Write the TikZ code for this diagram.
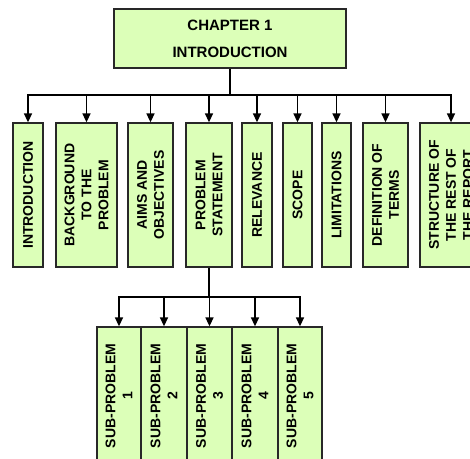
\documentclass[tikz,border=0pt]{standalone}
\usepackage{fontspec}
\setmainfont{Liberation Sans}
\usetikzlibrary{arrows.meta}
\definecolor{boxgreen}{RGB}{220,255,184}
\definecolor{boxline}{RGB}{40,40,40}

\begin{document}
\begin{tikzpicture}[x=1pt, y=-1pt,
  box/.style={shape=rectangle, draw=boxline, line width=1.3pt, fill=boxgreen, inner sep=0pt, align=center, font=\bfseries\fontsize{14}{17}\selectfont},
  vbox/.style={box, rotate=90},
  link/.style={line width=1.5pt},
  arr/.style={link, -{Triangle[length=9pt,width=8pt]}}]
\useasboundingbox (0,0) rectangle (470,458);
\clip (0,0) rectangle (470,458);

\node [box, minimum width=232pt, minimum height=59pt, line width=1.6pt, font=\bfseries\fontsize{15}{27}\selectfont] (C1) at (230,38.5) {CHAPTER 1\\INTRODUCTION};

% sections of the chapter
\node [vbox, minimum width=144pt, minimum height=30pt] (R1) at (28,195) {INTRODUCTION};
\node [vbox, minimum width=144pt, minimum height=61pt] (R2) at (86.5,195) {BACKGROUND\\TO THE\\PROBLEM};
\node [vbox, minimum width=144pt, minimum height=45pt] (R3) at (150.5,195) {AIMS AND\\OBJECTIVES};
\node [vbox, minimum width=144pt, minimum height=46pt] (R4) at (209,195) {PROBLEM\\STATEMENT};
\node [vbox, minimum width=144pt, minimum height=30pt] (R5) at (257,195) {RELEVANCE};
\node [vbox, minimum width=144pt, minimum height=29pt] (R6) at (297.5,195) {SCOPE};
\node [vbox, minimum width=144pt, minimum height=29pt] (R7) at (336.5,195) {LIMITATIONS};
\node [vbox, minimum width=144pt, minimum height=45pt] (R8) at (385.5,195) {DEFINITION OF\\TERMS};
\node [vbox, minimum width=144pt, minimum height=62pt] (R9) at (451,195) {STRUCTURE OF\\THE REST OF\\THE REPORT};

% sub-problems
\node [vbox, minimum width=138pt, minimum height=44pt] (S1) at (119,396) {SUB-PROBLEM\\1};
\node [vbox, minimum width=138pt, minimum height=46pt] (S2) at (164,396) {SUB-PROBLEM\\2};
\node [vbox, minimum width=138pt, minimum height=45pt] (S3) at (209.5,396) {SUB-PROBLEM\\3};
\node [vbox, minimum width=138pt, minimum height=46pt] (S4) at (255,396) {SUB-PROBLEM\\4};
\node [vbox, minimum width=138pt, minimum height=44pt] (S5) at (300,396) {SUB-PROBLEM\\5};

\coordinate (B1) at (230,95);
\coordinate (B2) at (209,297);

\draw [link] (C1.south) -- (B1);
\foreach \r in {R1,R2,R3,R4,R5,R6,R7,R8,R9}
  \draw [arr] (B1) -| (\r.east);

\draw [link] (R4.west) -- (B2);
\foreach \s in {S1,S2,S3,S4,S5}
  \draw [arr] (B2) -| (\s.east);
\end{tikzpicture}
\end{document}
